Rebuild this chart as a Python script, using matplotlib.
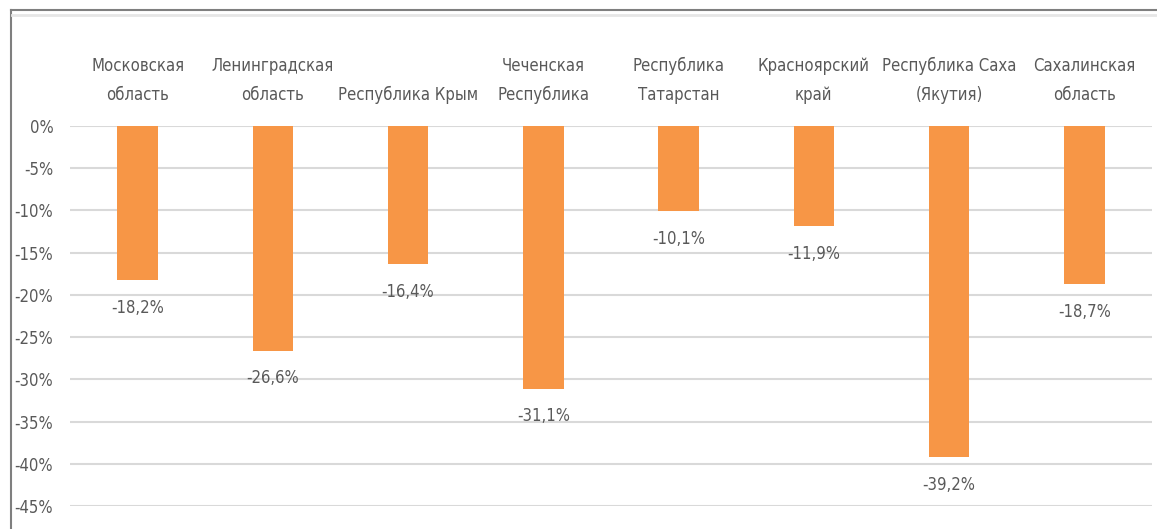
import matplotlib.pyplot as plt
from matplotlib.lines import Line2D

regions = ['Московская\nобласть', 'Ленинградская\nобласть', 'Республика Крым',
           'Чеченская\nРеспублика', 'Республика\nТатарстан', 'Красноярский\nкрай',
           'Республика Саха\n(Якутия)', 'Сахалинская\nобласть']
values = [-18.2, -26.6, -16.4, -31.1, -10.1, -11.9, -39.2, -18.7]
yticks = [0, -5, -10, -15, -20, -25, -30, -35, -40, -45]

plt.rcParams['font.family'] = ['DejaVu Sans']
plt.rcParams['font.stretch'] = 'condensed'
grey = '#595959'

fig = plt.figure(figsize=(11.57, 5.29), dpi=100)
ax = fig.add_axes([70/1157, 23/529, 1082/1157, 380/529])

x = list(range(len(values)))
ax.bar(x, values, width=0.3, color='#F79646', zorder=3)
# value labels under the bar ends
for xi, v in zip(x, values):
    ax.text(xi, v - 3.3, ('%.1f%%' % v).replace('.', ','), ha='center', va='center',
            fontsize=12, color=grey)
# category names above the zero line
for xi, lab in zip(x, regions):
    ax.text(xi, 2.6, lab, ha='center', va='bottom', fontsize=12, color=grey,
            linespacing=1.8)

ax.set_xlim(-0.5, len(values) - 0.5)
ax.set_ylim(-45, 0)
ax.set_yticks(yticks)
ax.set_yticklabels(['%d%%' % t for t in yticks], fontsize=12, color=grey)
ax.tick_params(axis='y', length=0, pad=12)
ax.set_xticks([])
ax.grid(axis='y', color='#D9D9D9', linewidth=1.5, zorder=0)
ax.set_axisbelow(True)
for s in ax.spines.values():
    s.set_visible(False)

# outer frame of the pasted chart
fig.add_artist(Line2D([11/1157, 11/1157], [0, 519/529], color='#7f7f7f', lw=1.5))
fig.add_artist(Line2D([11/1157, 1], [519/529, 519/529], color='#7f7f7f', lw=1.5))
fig.add_artist(Line2D([12/1157, 1], [514/529, 514/529], color='#e6e6e6', lw=2))

fig.savefig('out.png', dpi=100)
